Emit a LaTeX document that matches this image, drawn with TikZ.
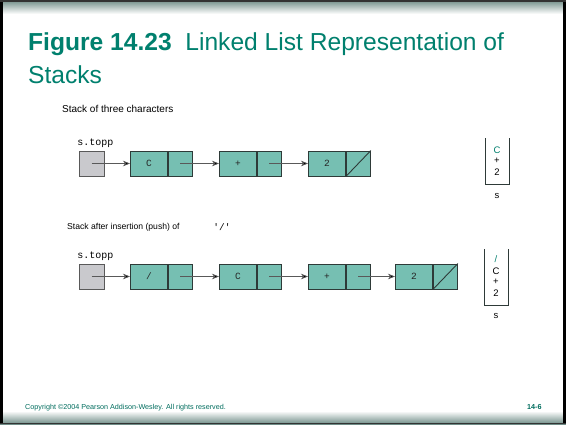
\documentclass[tikz,border=0pt]{standalone}
\usepackage{fontspec}
\setmainfont{Liberation Sans}
\setmonofont{Liberation Mono}
\usetikzlibrary{arrows.meta}
\definecolor{titlecol}{HTML}{00806E}
\definecolor{cellfill}{HTML}{76BFB2}
\definecolor{grayfill}{HTML}{C9C9CD}
\definecolor{edgecol}{HTML}{2E3A38}
\definecolor{bandcol}{HTML}{6E8C86}
\begin{document}
\begin{tikzpicture}[x=1pt,y=-1pt,
  cell/.style={draw=edgecol, line width=0.9pt, fill=cellfill, minimum height=25pt,
    inner sep=0pt, anchor=west, text=black!85, font=\ttfamily\fontsize{9.5}{9.5}\selectfont},
  datacell/.style={cell, minimum width=37pt},
  ptrcell/.style={cell, minimum width=24pt},
  topbox/.style={draw=black!65, line width=0.9pt, fill=grayfill, minimum width=25pt,
    minimum height=25pt, inner sep=0pt},
  link/.style={draw=black!65, line width=0.6pt, -{Stealth[length=7pt,width=5.5pt,fill=black]}},
  lbl/.style={font=\ttfamily\fontsize{10}{10}\selectfont, inner sep=0pt},
  stk/.style={font=\fontsize{9.5}{9.5}\selectfont, inner sep=0pt},
  stkline/.style={draw=edgecol, line width=0.9pt},
  caption/.style={anchor=west, inner sep=0pt},
  foot/.style={font=\fontsize{7.2}{7.2}\selectfont, text=titlecol!85!black, inner sep=0pt}]
% frame and bands
\useasboundingbox (0,0) rectangle (566,424);
\fill[white] (0,0) rectangle (566,424);
\shade[top color=bandcol, bottom color=white] (0,0) rectangle (566,14);
\shade[top color=white, bottom color=bandcol] (0,411) rectangle (566,424);
\fill[black] (0,0) rectangle (3,424);
\fill[black] (563,0) rectangle (566,424);
\fill[black!80] (0,0) rectangle (566,1.5);
\fill[black!80] (0,422.5) rectangle (566,424);
% title
\node[anchor=base west, inner sep=0pt, text=titlecol, font=\fontsize{24.6}{24.6}\selectfont]
  (title1) at (28,50.5) {\textbf{Figure 14.23}\ \ Linked List Representation of};
\node[anchor=base west, inner sep=0pt, text=titlecol, font=\fontsize{24.6}{24.6}\selectfont]
  (title2) at (28,83) {Stacks};
% row 1
\node[caption, font=\fontsize{10}{10}\selectfont] (cap1) at (62,109) {Stack of three characters};
\node[lbl] (st1) at (95.5,143) {s.topp};
\node[topbox] (top1) at (91.5,163.5) {};
\node[datacell] (a1) at (130,163.5) {C};
\node[ptrcell] (ap1) at (a1.east) {};
\node[datacell] (b1) at (219,163.5) {+};
\node[ptrcell] (bp1) at (b1.east) {};
\node[datacell] (c1) at (308,163.5) {2};
\node[ptrcell] (cp1) at (c1.east) {};
\draw[edgecol, line width=0.9pt] (cp1.south west) -- (cp1.north east);
\draw[link] (top1.center) -- (a1.west);
\draw[link] (ap1.center) -- (b1.west);
\draw[link] (bp1.center) -- (c1.west);
% stack 1
\draw[stkline] (485,138) -- (485,184) -- (509,184) -- (509,138);
\node[stk, text=titlecol] (s1a) at (497,150) {C};
\node[stk] (s1b) at (497,161) {+};
\node[stk] (s1c) at (497,172) {2};
\node[lbl, font=\ttfamily\fontsize{9.5}{9.5}\selectfont] (s1) at (497,196) {s};
% row 2
\node[caption, font=\fontsize{8.6}{8.6}\selectfont] (cap2) at (67,227) {Stack after insertion (push) of};
\node[lbl, font=\ttfamily\fontsize{9.5}{9.5}\selectfont] (slash) at (222,227) {'/'};
\node[lbl] (st2) at (95.5,256) {s.topp};
\node[topbox] (top2) at (91.5,276.5) {};
\node[datacell] (a2) at (130,276.5) {/};
\node[ptrcell] (ap2) at (a2.east) {};
\node[datacell] (b2) at (219,276.5) {C};
\node[ptrcell] (bp2) at (b2.east) {};
\node[datacell] (c2) at (308,276.5) {+};
\node[ptrcell] (cp2) at (c2.east) {};
\node[datacell] (d2) at (395,276.5) {2};
\node[ptrcell] (dp2) at (d2.east) {};
\draw[edgecol, line width=0.9pt] (dp2.south west) -- (dp2.north east);
\draw[link] (top2.center) -- (a2.west);
\draw[link] (ap2.center) -- (b2.west);
\draw[link] (bp2.center) -- (c2.west);
\draw[link] (cp2.center) -- (d2.west);
% stack 2
\draw[stkline] (484,249) -- (484,305) -- (508,305) -- (508,249);
\node[stk, text=titlecol] (s2a) at (496,259) {/};
\node[stk] (s2b) at (496,271) {C};
\node[stk] (s2c) at (496,282) {+};
\node[stk] (s2d) at (496,293) {2};
\node[lbl, font=\ttfamily\fontsize{9.5}{9.5}\selectfont] (s2) at (496,316) {s};
% footer
\node[foot, anchor=west] (copy) at (25,407.5) {Copyright ©2004 Pearson Addison-Wesley. All rights reserved.};
\node[foot, anchor=west, font=\bfseries\fontsize{7.2}{7.2}\selectfont] (pg) at (527,407.5) {14-6};
\end{tikzpicture}
\end{document}
